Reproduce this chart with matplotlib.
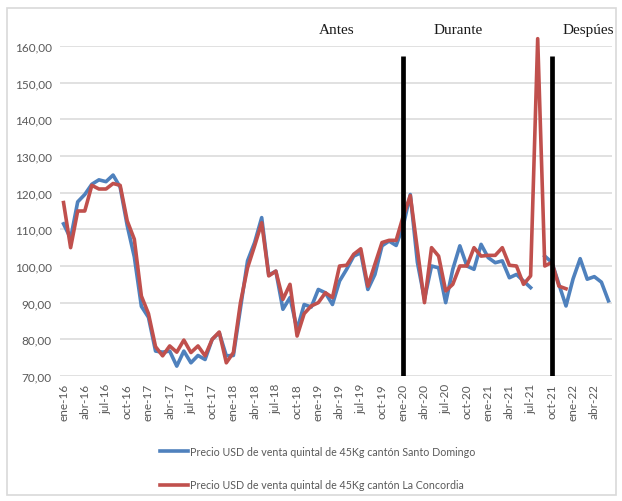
import numpy as np
import matplotlib
matplotlib.use("Agg")
import matplotlib.pyplot as plt
from matplotlib.patches import Rectangle

plt.rcParams["font.family"] = ["Lato", "DejaVu Sans"]

# ── Data ─────────────────────────────────────────────────────────────
month_abbr = ["ene", "feb", "mar", "abr", "may", "jun",
              "jul", "ago", "sep", "oct", "nov", "dic"]
years = ["16", "17", "18", "19", "20", "21", "22"]
months = [f"{m}-{y}" for y in years for m in month_abbr][:78]  # ene-16 .. jun-22

santo_domingo = [
    111.5, 107.5, 117.5, 119.5, 122.3, 123.5, 123.0, 124.8, 121.5, 111.0,
    102.5, 89.0, 86.0, 76.8, 76.5, 76.8, 72.7, 76.8, 73.6, 75.6,
    74.5, 80.0, 81.8, 75.5, 75.6, 88.5, 101.4, 106.4, 113.2, 97.5,
    98.6, 88.2, 91.4, 82.7, 89.5, 88.8, 93.6, 92.7, 89.5, 95.9,
    99.1, 102.7, 103.6, 93.6, 97.7, 105.5, 106.8, 105.6, 111.0, 119.5,
    101.0, 91.0, 100.0, 99.5, 90.0, 99.1, 105.5, 100.0, 99.1, 105.9,
    102.3, 100.9, 101.4, 96.8, 97.7, 95.9, 94.1, np.nan, 102.7, 101.0,
    95.0, 89.1, 96.5, 102.0, 96.4, 97.1, 95.6, 90.5,
]

la_concordia = [
    117.3, 105.0, 115.0, 115.0, 122.0, 121.0, 121.0, 122.5, 122.0, 112.3,
    107.3, 91.8, 87.0, 78.0, 75.5, 78.2, 76.5, 79.8, 76.4, 78.2,
    75.5, 80.0, 82.0, 73.6, 76.4, 90.0, 99.5, 105.5, 111.8, 97.3,
    98.6, 90.9, 95.0, 80.9, 87.0, 89.1, 90.0, 92.7, 91.4, 100.0,
    100.2, 103.2, 104.7, 94.5, 100.5, 106.4, 107.0, 107.0, 113.6, 119.2,
    104.5, 90.0, 105.0, 102.7, 93.2, 95.0, 100.0, 100.0, 105.0, 102.7,
    102.9, 102.9, 105.0, 100.2, 100.0, 95.0, 97.3, 162.0, 100.0, 101.0,
    94.5, 93.8,
]

period_breaks = [48, 69]  # ene-20, oct-21
period_labels = ["Antes", "Durante", "Despúes"]
period_label_x = [38.6, 55.7, 74.2]

y_ticks = [70, 80, 90, 100, 110, 120, 130, 140, 150, 160]

label_sd = "Precio USD de venta quintal de 45Kg cantón Santo Domingo"
label_lc = "Precio USD de venta quintal de 45Kg cantón La Concordia"

# ── Figure ───────────────────────────────────────────────────────────
W, H = 622, 502
fig = plt.figure(figsize=(W / 100, H / 100), dpi=100)
fig.patches.append(Rectangle((7 / W, 1 - 496 / H), 609 / W, 487 / H,
                             transform=fig.transFigure, fill=False,
                             edgecolor="#D9D9D9", linewidth=1.2))

ax = fig.add_axes([60 / W, 1 - 377 / H, 552 / W, 330 / H])

x_sd = np.arange(len(santo_domingo))
x_lc = np.arange(len(la_concordia))

ax.plot(x_sd, santo_domingo, color="#4F81BD", linewidth=2.6,
        label=label_sd, solid_joinstyle="round", zorder=3)
ax.plot(x_lc, la_concordia, color="#C0504D", linewidth=2.6,
        label=label_lc, solid_joinstyle="round", zorder=4, clip_on=False)

ax.vlines(period_breaks, 70, 157.3, colors="black", linewidth=3.4, zorder=5)
for txt, xp in zip(period_labels, period_label_x):
    ax.text(xp, 164.6, txt, ha="center", va="center",
            family="Liberation Serif", fontsize=11, color="#1a1a1a")

ax.set_xlim(-0.5, len(months) - 0.5)
ax.set_ylim(70, 160)
ax.set_yticks(y_ticks)
ax.set_yticklabels([f"{v:.2f}".replace(".", ",") for v in y_ticks])
ax.set_xticks(np.arange(0, len(months), 3))
ax.set_xticklabels(months[::3], rotation=90)

ax.grid(True, axis="y", color="#D9D9D9", linewidth=1.1)
ax.set_axisbelow(True)
for s in ax.spines.values():
    s.set_visible(False)
ax.tick_params(axis="both", length=0, labelsize=8.5, labelcolor="#595959")
ax.tick_params(axis="y", pad=6)
ax.tick_params(axis="x", pad=5)

fig.legend(loc="upper left", bbox_to_anchor=(160 / W, 1 - 447 / H),
           frameon=False, fontsize=7.7, labelcolor="#595959",
           handlelength=2.6, handletextpad=0.2, labelspacing=2.1,
           borderpad=0, borderaxespad=0)

fig.savefig("out.png", dpi=100)
